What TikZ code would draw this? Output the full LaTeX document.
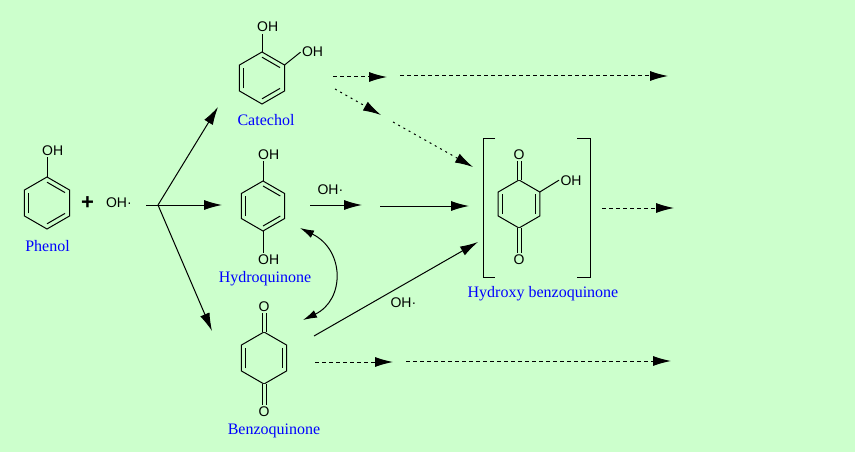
\documentclass[tikz,border=0pt]{standalone}
\usepackage{fontspec}
\setmainfont{Liberation Serif}
\newfontfamily\atomfont{Liberation Sans}
\usetikzlibrary{calc,arrows.meta}
\definecolor{bgreen}{RGB}{204,255,204}
\definecolor{lblue}{RGB}{0,0,255}
\tikzset{
  atom/.style={font=\atomfont\fontsize{14}{14}\selectfont, inner sep=1pt, anchor=base west},
  molname/.style={font=\fontsize{16}{16}\selectfont, text=lblue, inner sep=0pt, anchor=base},
  arr/.style={-{Latex[length=18pt,width=10pt]}},
  dline/.style={arr, dash pattern=on 4pt off 3pt},
  dotline/.style={arr, dash pattern=on 2pt off 4pt},
  dbond/.style={double=bgreen, double distance=3pt}
}
\newcommand{\hexring}[3]{%
  \coordinate (#1) at (#2);
  \foreach \k/\a in {1/-90,2/-30,3/30,4/90,5/150,6/210}
    \coordinate (#1-\k) at ($(#1)+(\a:#3)$);
  \draw (#1-1) -- (#1-2) -- (#1-3) -- (#1-4) -- (#1-5) -- (#1-6) -- cycle;
}
\newcommand{\inbond}[3]{\draw ($(#1)!0.8!(#1-#2)$) -- ($(#1)!0.8!(#1-#3)$);}
\begin{document}
\begin{tikzpicture}[x=1pt,y=-1pt,line width=1pt]
    \fill[bgreen] (0,0) rectangle (855,452);
    \hexring{ph}{47,203}{26}
    \inbond{ph}{1}{2} \inbond{ph}{3}{4} \inbond{ph}{5}{6}
    \node[atom] (phOH) at (40.7,155) {OH};
    \draw (ph-1) -- (ph-1 |- phOH.south);
    \node[molname] (phenol) at (47.5,251) {Phenol};
    \node[font=\atomfont\bfseries\fontsize{22}{22}\selectfont, inner sep=0pt] (plus) at (87.5,203) {+};
    \node[atom] (oh1) at (104.5,207) {OH·};
    \hexring{ca}{262,78}{26}
    \inbond{ca}{1}{2} \inbond{ca}{3}{4} \inbond{ca}{5}{6}
    \node[atom] (caOH1) at (255.7,32) {OH};
    \node[atom] (caOH2) at (300.5,57) {OH};
    \draw (ca-1) -- (ca-1 |- caOH1.south);
    \draw (ca-2) -- (caOH2.west);
    \node[molname] (catechol) at (266,125) {Catechol};
    \hexring{hy}{263,206}{25}
    \inbond{hy}{1}{2} \inbond{hy}{3}{4} \inbond{hy}{5}{6}
    \node[atom] (hyOH1) at (256.7,159) {OH};
    \node[atom] (hyOH2) at (256.7,264) {OH};
    \draw (hy-1) -- (hy-1 |- hyOH1.south);
    \draw (hy-4) -- (hy-4 |- hyOH2.north);
    \node[molname] (hydroq) at (265,282) {Hydroquinone};
    \hexring{bz}{264,358}{26}
    \inbond{bz}{2}{3} \inbond{bz}{5}{6}
    \node[atom, anchor=base] (bzO1) at (264,311) {O};
    \node[atom, anchor=base] (bzO2) at (264,416) {O};
    \draw[dbond] (bz-1) -- (bz-1 |- bzO1.south);
    \draw[dbond] (bz-4) -- (bz-4 |- bzO2.north);
    \node[molname] (benzoq) at (274,434) {Benzoquinone};
    \hexring{hq}{519,204}{24}
    \inbond{hq}{2}{3} \inbond{hq}{5}{6}
    \node[atom, anchor=base] (hqO1) at (519,159) {O};
    \node[atom, anchor=base] (hqO2) at (519,264) {O};
    \node[atom] (hqOH) at (559,185) {OH};
    \draw[dbond] (hq-1) -- (hq-1 |- hqO1.south);
    \draw[dbond] (hq-4) -- (hq-4 |- hqO2.north);
    \draw (hq-2) -- (hqOH.west);
    \draw (495,138) -| (483,277) -- (495,277);
    \draw (577,138) -| (590,277) -- (577,277);
    \node[molname] (hbq) at (543,297) {Hydroxy benzoquinone};
    \coordinate (stem) at (146,205);
    \coordinate (split) at (158,205);
    \coordinate (toCa) at (218,107);
    \coordinate (toHy) at (222,205);
    \coordinate (toBz) at (212,331);
    \draw (stem) -- (split);
    \draw[arr] (split) -- (toCa);
    \draw[arr] (split) -- (toHy);
    \draw[arr] (split) -- (toBz);
    \coordinate (ca1a) at (333,77);
    \coordinate (ca1b) at (387,77);
    \coordinate (ca2a) at (400,76);
    \coordinate (ca2b) at (668,76);
    \draw[dline] (ca1a) -- (ca1b);
    \draw[dline] (ca2a) -- (ca2b);
    \coordinate (ca3a) at (335,89);
    \coordinate (ca3b) at (381,115);
    \coordinate (ca4a) at (393,122);
    \coordinate (ca4b) at (473,167);
    \draw[dotline] (ca3a) -- (ca3b);
    \draw[dotline] (ca4a) -- (ca4b);
    \coordinate (hy1a) at (310,205);
    \coordinate (hy1b) at (362,205);
    \coordinate (hy2a) at (380,206);
    \coordinate (hy2b) at (469,206);
    \draw[arr] (hy1a) -- (hy1b);
    \draw[arr] (hy2a) -- (hy2b);
    \node[atom] (oh2) at (316,194) {OH·};
    \coordinate (hq1a) at (602,208);
    \coordinate (hq1b) at (674,208);
    \draw[dline] (hq1a) -- (hq1b);
    \coordinate (bz1a) at (314,336);
    \coordinate (bz1b) at (478,242);
    \draw[arr] (bz1a) -- (bz1b);
    \node[atom] (oh3) at (389,307) {OH·};
    \coordinate (bz2a) at (315,362);
    \coordinate (bz2b) at (393,362);
    \coordinate (bz3a) at (406,361);
    \coordinate (bz3b) at (671,361);
    \draw[dline] (bz2a) -- (bz2b);
    \draw[dline] (bz3a) -- (bz3b);
    \coordinate (swapa) at (300,228);
    \coordinate (swapb) at (303,320);
    \draw[{Latex[length=14pt,width=8pt]}-{Latex[length=14pt,width=8pt]}] (swapa) .. controls (345,250) and (345,300) .. (swapb);
  \end{tikzpicture}
\end{document}
